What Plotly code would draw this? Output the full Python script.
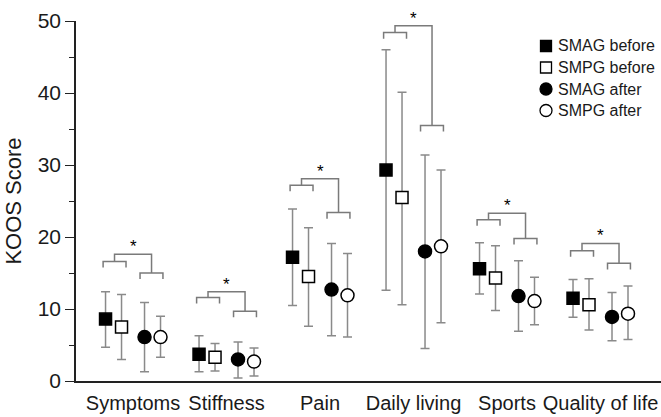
import plotly.graph_objects as go

# KOOS subscale categories
categories = ["Symptoms", "Stiffness", "Pain", "Daily living", "Sports", "Quality of life"]
cat_pos = [1, 2, 3, 4, 5, 6]

# Group means and error-bar ends (upper / lower)
smag_before_mean = [8.6, 3.7, 17.2, 29.3, 15.6, 11.5]
smag_before_upper = [12.4, 6.3, 23.9, 46.0, 19.2, 14.1]
smag_before_lower = [4.7, 1.3, 10.5, 12.6, 12.1, 8.85]

smpg_before_mean = [7.5, 3.3, 14.5, 25.5, 14.3, 10.6]
smpg_before_upper = [12.0, 5.2, 21.3, 40.1, 18.8, 14.2]
smpg_before_lower = [3.0, 1.4, 7.6, 10.6, 9.8, 7.1]

smag_after_mean = [6.1, 3.0, 12.7, 18.0, 11.8, 8.9]
smag_after_upper = [10.9, 5.4, 19.1, 31.4, 16.7, 12.3]
smag_after_lower = [1.3, 0.4, 6.3, 4.5, 6.9, 5.6]

smpg_after_mean = [6.1, 2.7, 11.9, 18.7, 11.1, 9.35]
smpg_after_upper = [9.0, 4.6, 17.7, 29.3, 14.4, 13.2]
smpg_after_lower = [3.3, 0.7, 6.1, 8.1, 7.8, 5.75]

# Significance bracket levels (before pair, after pair, connector)
bracket_before = [16.6, 11.6, 27.2, 48.4, 22.4, 18.1]
bracket_after = [15.0, 9.7, 23.4, 35.5, 19.8, 16.35]
bracket_top = [17.6, 12.4, 28.1, 49.35, 23.3, 19.1]
sig_label = ["*", "*", "*", "*", "*", "*"]

# Layout constants
OFF_IN, OFF_OUT = 0.123, 0.294
LEG_IN, LEG_OUT, LEG_MID = 0.075, 0.32, 0.198
LEG_LEN = 0.85
ERR_COLOR = "#8a8a8a"
BRACKET_COLOR = "#7a7a7a"
TEXT_COLOR = "#1a1a1a"
FONT = "Arial, Liberation Sans, sans-serif"

series = [
    ("SMAG before", smag_before_mean, smag_before_upper, smag_before_lower, -OFF_OUT, "square", "black", 12),
    ("SMPG before", smpg_before_mean, smpg_before_upper, smpg_before_lower, -OFF_IN, "square", "white", 12),
    ("SMAG after", smag_after_mean, smag_after_upper, smag_after_lower, OFF_IN, "circle", "black", 13),
    ("SMPG after", smpg_after_mean, smpg_after_upper, smpg_after_lower, OFF_OUT, "circle", "white", 13),
]

fig = go.Figure()

# Significance brackets
bx, by = [], []
for c, b, a, t in zip(cat_pos, bracket_before, bracket_after, bracket_top):
    bx += [c - LEG_OUT, c - LEG_OUT, c - LEG_IN, c - LEG_IN, None]
    by += [b - LEG_LEN, b, b, b - LEG_LEN, None]
    bx += [c + LEG_IN, c + LEG_IN, c + LEG_OUT, c + LEG_OUT, None]
    by += [a - LEG_LEN, a, a, a - LEG_LEN, None]
    bx += [c - LEG_MID, c - LEG_MID, c + LEG_MID, c + LEG_MID, None]
    by += [b, t, t, a, None]
fig.add_trace(go.Scatter(x=bx, y=by, mode="lines", showlegend=False, hoverinfo="skip",
                         line=dict(color=BRACKET_COLOR, width=1.5)))

for name, mean, up, lo, off, sym, fill, size in series:
    fig.add_trace(go.Scatter(
        x=[c + off for c in cat_pos], y=mean, mode="markers", name=name, showlegend=False,
        cliponaxis=False,
        marker=dict(symbol=sym, size=size, color=fill, line=dict(color="black", width=1.5)),
        error_y=dict(type="data", symmetric=False,
                     array=[u - m for u, m in zip(up, mean)],
                     arrayminus=[m - l for m, l in zip(mean, lo)],
                     color=ERR_COLOR, thickness=1.5, width=4.5),
    ))

# Significance stars
for c, t, s in zip(cat_pos, bracket_top, sig_label):
    fig.add_annotation(x=c, y=t, text=s, showarrow=False, yanchor="bottom",
                       xanchor="center", yshift=-4, font=dict(size=17, color="#000", family=FONT))

# Legend drawn as keys plus text
leg_x_key = (546 - 76) / 585
leg_x_text = (556 - 76) / 585
leg_rows = [(381 - y) / 360 for y in (46, 67.5, 89, 110.5)]
for (name, _, _, _, _, sym, fill, size), ly in zip(series, leg_rows):
    half = 5.5 if sym == "square" else 6
    fig.add_shape(type="rect" if sym == "square" else "circle",
                  xref="paper", yref="paper", xsizemode="pixel", ysizemode="pixel",
                  xanchor=leg_x_key, yanchor=ly, x0=-half, x1=half, y0=-half, y1=half,
                  fillcolor=fill, line=dict(color="black", width=1.3))
    fig.add_annotation(x=leg_x_text, y=ly, xref="paper", yref="paper", text=name,
                       showarrow=False, xanchor="left", yanchor="middle",
                       font=dict(size=16, color=TEXT_COLOR, family=FONT))

fig.update_layout(
    width=661, height=417,
    margin=dict(l=76, r=0, t=21, b=36),
    paper_bgcolor="white", plot_bgcolor="white",
    font=dict(family=FONT, color=TEXT_COLOR),
    xaxis=dict(range=[0.39, 6.647], tickvals=cat_pos, ticktext=categories, ticks="",
               showgrid=False, zeroline=False, showline=True, linecolor="#222", linewidth=1.5,
               tickfont=dict(size=20, color=TEXT_COLOR), ticklabeloverflow="allow",
               ticklabelstandoff=3),
    yaxis=dict(range=[0, 50], tickvals=[0, 10, 20, 30, 40, 50], ticks="outside", ticklen=9,
               tickwidth=1.3, tickcolor="#222",
               minor=dict(dtick=5, ticks="outside", ticklen=5, tickwidth=1.3, tickcolor="#222"),
               showgrid=False, zeroline=False, showline=True, linecolor="#222", linewidth=1.5,
               tickfont=dict(size=21, color=TEXT_COLOR),
               title=dict(text="KOOS Score", font=dict(size=22, color=TEXT_COLOR), standoff=10)),
)

fig.write_html("out.html")
